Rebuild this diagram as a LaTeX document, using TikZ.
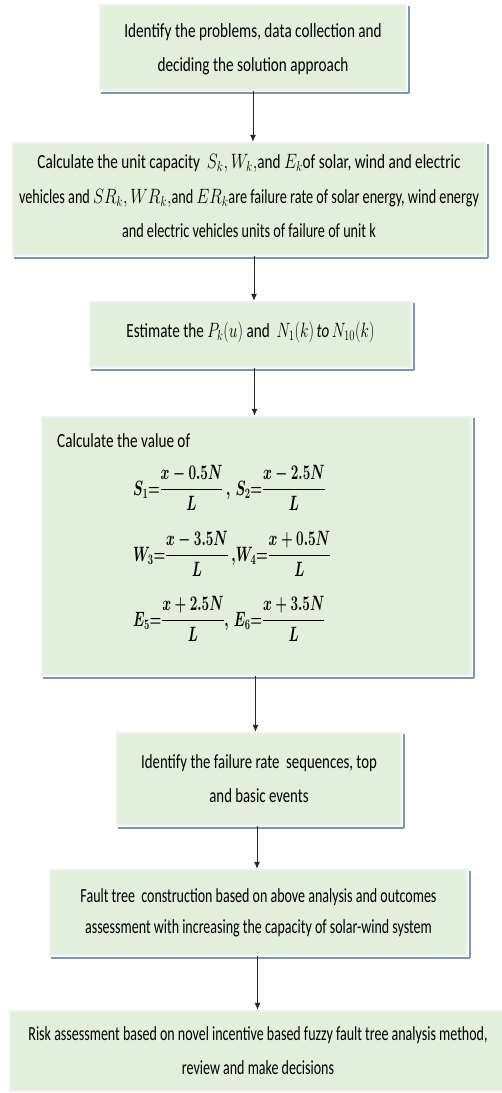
\documentclass[tikz,border=0pt]{standalone}
\usepackage{amsmath}
\usepackage{graphicx}
\usepackage{fontspec}
\setmainfont{Carlito}
\newfontfamily\fa{Carlito}[FakeStretch=0.76]
\newfontfamily\fb{Carlito}[FakeStretch=0.74]
\newfontfamily\fc{Carlito}[FakeStretch=0.71]
\newfontfamily\fd{Carlito}[FakeStretch=0.70]
\usetikzlibrary{arrows.meta}
\definecolor{boxfill}{HTML}{E2EFDA}
\definecolor{boxrim}{HTML}{F0F0F0}
\definecolor{boxshadow}{HTML}{7D95B0}
\definecolor{arrowcol}{HTML}{262626}
\newcommand{\m}[1]{\scalebox{0.8}[1]{$#1$}}
\newcommand{\fr}[2]{\frac{#1\vrule depth 3pt width 0pt}{\vrule height 17pt width 0pt #2}}
\newcommand{\boxshade}[1]{%
  \draw[boxshadow, line width=2.2pt] ([xshift=2pt,yshift=-1.6pt]#1.south west) -- ([xshift=1.6pt,yshift=-1.6pt]#1.south east);
  \draw[boxshadow, line width=1.3pt] ([xshift=1.6pt,yshift=-1.6pt]#1.south east) -- ([xshift=1.6pt,yshift=-2pt]#1.north east);}
\begin{document}
\begin{tikzpicture}[x=1pt,y=-1pt,
  box/.style={draw=boxrim, line width=2.5pt, fill=boxfill, inner sep=0pt, align=center, font=\fa\fontsize{20}{34}\selectfont},
  arr/.style={draw=arrowcol, line width=0.9pt, -{Latex[length=7pt,width=6pt]}},
  txt/.style={inner sep=0pt, font=\fa\fontsize{20}{34}\selectfont},
  eq/.style={inner sep=0pt, font=\fontsize{20}{24}\selectfont\boldmath}]
\useasboundingbox (0,0) rectangle (502,1093);
\fill[white] (0,0) rectangle (502,1093);

\node[box, minimum width=306pt, minimum height=85pt, text depth=-4pt] (b1) at (253,47.5)
  {Identify the problems, data collection and\\deciding the solution approach};
\boxshade{b1}

\node[box, font=\fc\fontsize{20}{34.5}\selectfont, minimum width=472pt, minimum height=112pt] (b2) at (249,199)
  {};
\node[inner sep=0pt, align=center, font=\fc\fontsize{20}{34.5}\selectfont] (t2) at ([yshift=3pt]b2.center)
  {{\fa Calculate the unit capacity \ \m{S_k,W_k,}and \m{E_k}of solar, wind and electric}\\
   vehicles and \m{SR_k, WR_k,}and \m{ER_k}are failure rate of solar energy, wind energy\\
   and electric vehicles units of failure of unit k};
\boxshade{b2}

\node[box, minimum width=321pt, minimum height=65pt] (b3) at (250.5,334.5) {};
\node[inner sep=0pt, font=\fa\fontsize{20}{34}\selectfont] (t3) at ([yshift=2pt]b3.center)
  {Estimate the \scalebox{0.75}[1]{$P_k(u)$} and \ \scalebox{0.75}[1]{$N_1(k)\ \mathit{to}\,N_{10}(k)$}};
\boxshade{b3}

\node[box, minimum width=429pt, minimum height=258pt] (b4) at (256.5,546) {};
\boxshade{b4}
\node[txt, anchor=base west] (t4) at (57,447) {Calculate the value of};
\node[eq, anchor=west] (e1) at (133,488) {\scalebox{0.65}[1]{$\displaystyle S_1{=}\fr{x-0.5N}{L}\ ,\, S_2{=}\fr{x-2.5N}{L}$}};
\node[eq, anchor=west] (e2) at (133,554) {\scalebox{0.65}[1]{$\displaystyle W_3{=}\fr{x-3.5N}{L}\ ,\!W_4{=}\fr{x+0.5N}{L}$}};
\node[eq, anchor=west] (e3) at (133,619) {\scalebox{0.65}[1]{$\displaystyle E_5{=}\fr{x+2.5N}{L},\, E_6{=}\fr{x+3.5N}{L}$}};

\node[box, font=\fb\fontsize{20}{34}\selectfont, minimum width=284pt, minimum height=92pt] (b5) at (259,779)
  {Identify the failure rate \ sequences, top\\and basic events};
\boxshade{b5}

\node[box, font=\fd\fontsize{20}{31}\selectfont, minimum width=417pt, minimum height=85pt] (b6) at (258.5,912.5)
  {Fault tree \ construction based on above analysis and outcomes\\
   assessment with increasing the capacity of solar-wind system};
\boxshade{b6}

\node[box, font=\fd\fontsize{20}{34}\selectfont, minimum width=496pt, minimum height=80pt] (b7) at (258,1051)
  {Risk assessment based on novel incentive based fuzzy fault tree analysis method,\\
   review and make decisions};
\boxshade{b7}

\draw[arr] (b1.south) -- (b1.south |- b2.north);
\draw[arr] ([xshift=5pt]b2.south) -- ([xshift=5pt]b2.south |- b3.north);
\draw[arr] ([xshift=4pt]b3.south) -- ([xshift=4pt]b3.south |- b4.north);
\draw[arr] ([xshift=-1pt]b4.south) -- ([xshift=-1pt]b4.south |- b5.north);
\draw[arr] ([xshift=-2pt]b5.south) -- ([xshift=-2pt]b5.south |- b6.north);
\draw[arr] ([xshift=-1pt]b6.south) -- ([xshift=-1pt]b6.south |- b7.north);
\end{tikzpicture}
\end{document}
